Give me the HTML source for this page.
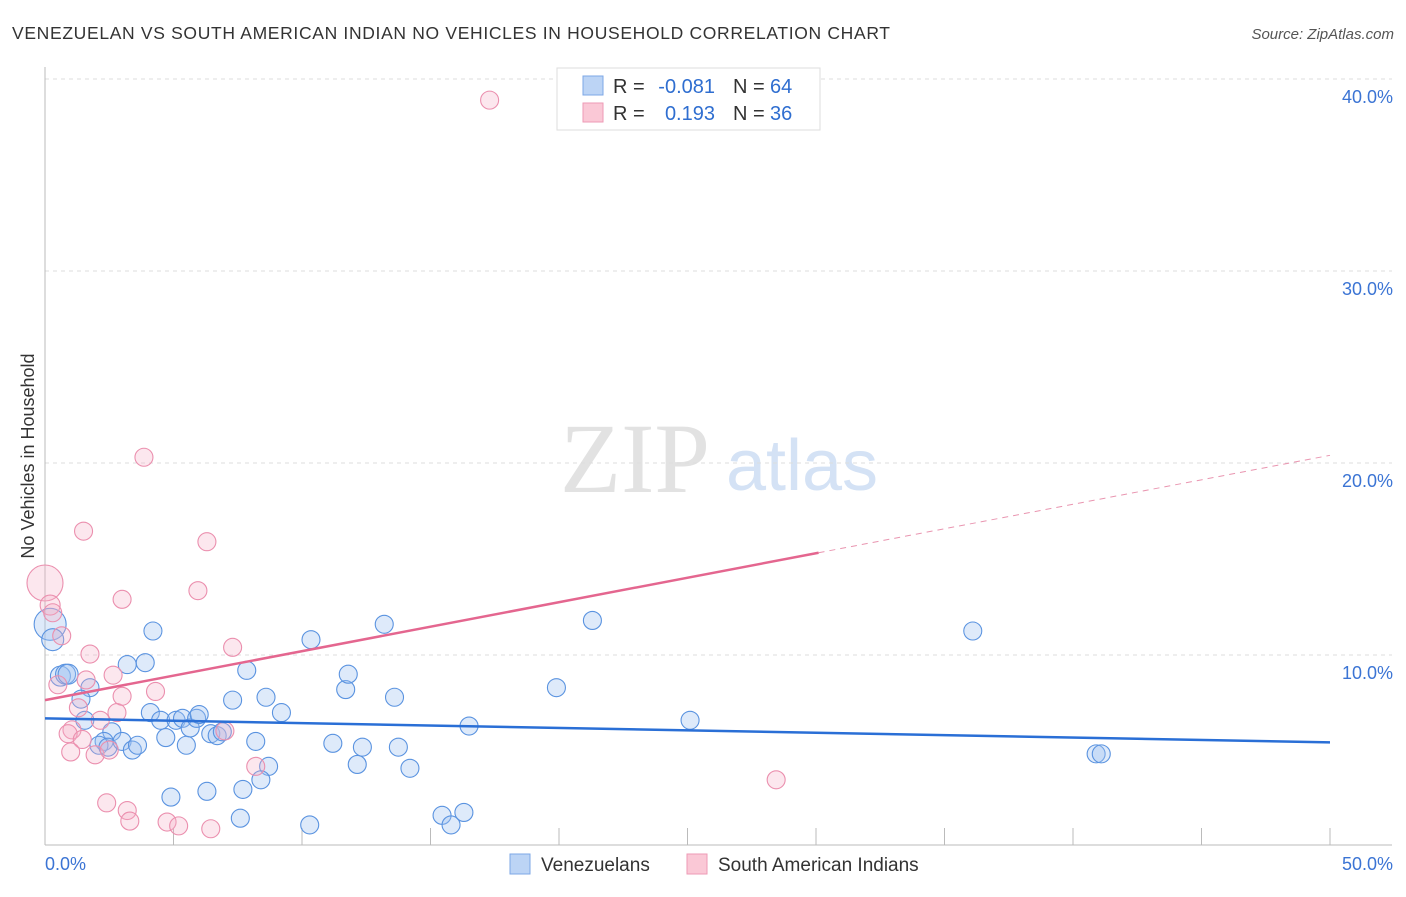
<!DOCTYPE html>
<html><head><meta charset="utf-8"><style>
body{margin:0;background:#fff;font-family:"Liberation Sans",sans-serif}
</style></head><body>
<svg id="c" width="1406" height="892" font-family="Liberation Sans, sans-serif">
<text x="12" y="39" font-size="17.5" fill="#333" textLength="878" lengthAdjust="spacing">VENEZUELAN VS SOUTH AMERICAN INDIAN NO VEHICLES IN HOUSEHOLD CORRELATION CHART</text>
<text x="1394" y="39" font-size="15" fill="#555" font-style="italic" text-anchor="end">Source: ZipAtlas.com</text>
<text x="34" y="456" font-size="18" fill="#333" text-anchor="middle" transform="rotate(-90 34 456)">No Vehicles in Household</text>
<g><text x="635" y="492" font-size="100" fill="#e2e2e2" style="font-family:'Liberation Serif',serif" text-anchor="middle">ZIP</text><text x="802" y="490" font-size="72" fill="#d4e2f5" text-anchor="middle">atlas</text></g>
<g id="grid"></g><g id="axes"></g><g id="marks"></g>
<g>
<rect x="557" y="68" width="263" height="62" fill="#fff" stroke="#ddd"/>
<rect x="583" y="76" width="20" height="19" fill="#bcd4f5" stroke="#7da7e6"/>
<rect x="583" y="103" width="20" height="19" fill="#fac8d6" stroke="#ee9ab5"/>
<text x="613" y="93" font-size="20" fill="#333">R =</text>
<text x="715" y="93" font-size="20" fill="#2f6ed0" text-anchor="end">-0.081</text>
<text x="733" y="93" font-size="20" fill="#333">N =</text>
<text x="770" y="93" font-size="20" fill="#2f6ed0">64</text>
<text x="613" y="120" font-size="20" fill="#333">R =</text>
<text x="715" y="120" font-size="20" fill="#2f6ed0" text-anchor="end">0.193</text>
<text x="733" y="120" font-size="20" fill="#333">N =</text>
<text x="770" y="120" font-size="20" fill="#2f6ed0">36</text>
</g>
<g>
<rect x="510" y="854" width="20" height="20" fill="#bcd4f5" stroke="#7da7e6"/>
<text x="541" y="871" font-size="19" fill="#333">Venezuelans</text>
<rect x="687" y="854" width="20" height="20" fill="#fac8d6" stroke="#ee9ab5"/>
<text x="718" y="871" font-size="19" fill="#333">South American Indians</text>
</g>
</svg>
<script>
const blueX=[0.2,0.3,0.6,0.8,0.9,1.75,1.4,1.55,2.6,2.3,2.1,2.45,3.0,3.4,3.6,3.2,3.9,4.2,4.1,4.5,4.7,5.1,5.35,5.5,5.65,5.9,6.0,6.45,6.7,6.9,7.3,7.85,8.6,9.2,8.2,8.7,8.4,7.7,6.3,4.9,7.6,10.3,10.35,11.7,11.8,11.2,12.15,12.35,13.2,13.6,13.75,14.2,15.45,15.8,16.3,16.5,19.9,21.3,25.1,36.1,40.9,41.1];
const blueY=[11.6,10.8,8.9,9.0,9.0,8.3,7.7,6.6,6.0,5.5,5.3,5.2,5.5,5.05,5.3,9.5,9.6,11.25,7.0,6.6,5.7,6.6,6.7,5.3,6.2,6.7,6.9,5.9,5.8,6.0,7.65,9.2,7.8,7.0,5.5,4.2,3.5,3.0,2.9,2.6,1.5,1.15,10.8,8.2,9.0,5.4,4.3,5.2,11.6,7.8,5.2,4.1,1.65,1.15,1.8,6.3,8.3,11.8,6.6,11.25,4.85,4.85];
const blueR=[16,11,10,10,10,9,9,9,9,9,9,9,9,9,9,9,9,9,9,9,9,9,9,9,9,9,9,9,9,9,9,9,9,9,9,9,9,9,9,9,9,9,9,9,9,9,9,9,9,9,9,9,9,9,9,9,9,9,9,9,9,9];
const pinkX=[0,0.2,0.3,0.65,0.5,1.05,0.9,1.3,1.45,1.0,1.75,1.6,1.5,1.95,2.15,2.5,2.65,2.8,3.0,3.0,3.85,4.3,5.95,6.3,7.3,7.0,8.2,2.4,3.2,3.3,4.75,5.2,6.45,17.3,28.45];
const pinkY=[13.75,12.6,12.2,11.0,8.45,6.1,5.9,7.25,5.6,4.95,10.05,8.7,16.45,4.8,6.6,5.05,8.95,7.0,7.85,12.9,20.3,8.1,13.35,15.9,10.4,6.05,4.2,2.3,1.9,1.35,1.3,1.1,0.95,38.9,3.5];
const pinkR=[18,10,9,9,9,9,9,9,9,9,9,9,9,9,9,9,9,9,9,9,9,9,9,9,9,9,9,9,9,9,9,9,9,9,9];
const yTicks=[10,20,30,40];
const yTickLabels=["10.0%","20.0%","30.0%","40.0%"];
const xLabels=["0.0%","50.0%"];
const blueTrend=[6.7,5.45];
const pinkTrend=[7.65,20.4];
const pinkSolidEnd=30.1;
const X=v=>45+v/50*1285, Y=v=>847-v*19.2;
const NS="http://www.w3.org/2000/svg";
function mk(tag,at,parent){const e=document.createElementNS(NS,tag);for(const k in at)e.setAttribute(k,at[k]);document.getElementById(parent).appendChild(e);return e;}
yTicks.forEach((t,i)=>{
 const g=mk('line',{x1:45,x2:1392,y1:Y(t),y2:Y(t),stroke:'#ddd','stroke-dasharray':'4,4'},'grid');
 
 
 const l=mk('text',{x:1393,y:Y(t)+24,'font-size':18,fill:'#3b74d4','text-anchor':'end'},'grid');l.textContent=yTickLabels[i];
 
 
});
const ya=mk('line',{x1:45,x2:45,y1:67,y2:845,stroke:'#bbb'},'axes');


const xa=mk('line',{x1:45,x2:1392,y1:845,y2:845,stroke:'#bbb'},'axes');


for(let v=5;v<=50;v+=5){const t=mk('line',{x1:X(v),x2:X(v),y1:828,y2:845,stroke:'#bbb'},'axes');
 
 }
[[0,'start',45],[50,'end',1393]].forEach((a,i)=>{const t=mk('text',{x:a[2],y:870,'font-size':18,fill:'#3b74d4','text-anchor':a[1]},'axes');t.textContent=xLabels[i];
 
 });
blueX.forEach((x,i)=>{const c=mk('circle',{cx:X(x),cy:Y(blueY[i]),r:blueR[i],fill:'rgba(160,195,240,0.35)',stroke:'#5a93e0','stroke-width':1.1},'marks');
 
 });
pinkX.forEach((x,i)=>{const c=mk('circle',{cx:X(x),cy:Y(pinkY[i]),r:pinkR[i],fill:'rgba(245,175,198,0.3)',stroke:'#eb8fae','stroke-width':1.1},'marks');
 
 });
const bt=mk('line',{x1:X(0),y1:Y(blueTrend[0]),x2:X(50),y2:Y(blueTrend[1]),stroke:'#2a6fd6','stroke-width':2.5},'marks');


const py=v=>pinkTrend[0]+(pinkTrend[1]-pinkTrend[0])*v/50;
const pt=mk('line',{x1:X(0),y1:Y(py(0)),x2:X(pinkSolidEnd),y2:Y(py(pinkSolidEnd)),stroke:'#e4668f','stroke-width':2.5},'marks');


const pd=mk('line',{x1:X(pinkSolidEnd),y1:Y(py(pinkSolidEnd)),x2:X(50),y2:Y(py(50)),stroke:'#e995b0','stroke-width':1,'stroke-dasharray':'6,5'},'marks');


</script>
</body></html>
